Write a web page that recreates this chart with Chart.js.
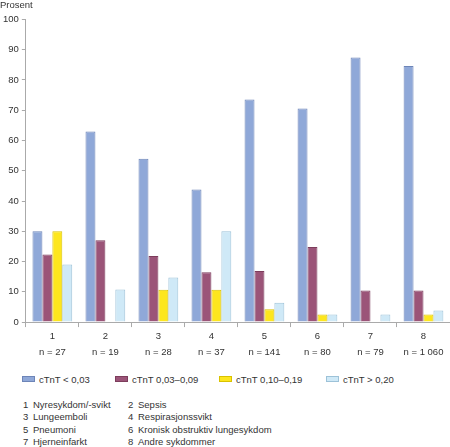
<!DOCTYPE html>
<html>
<head>
<meta charset="utf-8">
<script src="https://cdn.jsdelivr.net/npm/chart.js@4.4.1/dist/chart.umd.min.js"></script>
<style>
  html, body { margin: 0; padding: 0; background: #fff; }
  body { width: 450px; height: 447px; overflow: hidden; font-family: "Liberation Sans", Arial, sans-serif; color: #333; position: relative; }
  #wrap { position: relative; width: 450px; height: 361px; }
  #legend { position: absolute; top: 374px; left: 0; font-size: 9.5px; white-space: nowrap; }
  #legend span.item { position: absolute; top: 0; line-height: 12px; }
  #legend i { display: inline-block; width: 13px; height: 6px; margin-right: 4px; vertical-align: 1px; box-sizing: border-box; border: 1px solid; }
  #list { position: absolute; top: 399px; left: 23px; font-size: 9.5px; line-height: 12.3px; }
  #list div { position: relative; height: 12.3px; }
  #list span { position: absolute; white-space: nowrap; }
</style>
</head>
<body>
<div id="wrap"><canvas id="c"></canvas></div>
<div id="legend"></div>
<div id="list"></div>
<script>
  // Kategorijas un vērtības (procenti), nolasīti no attēla
  var categories = ['1', '2', '3', '4', '5', '6', '7', '8'];
  var counts = ['n = 27', 'n = 19', 'n = 28', 'n = 37', 'n = 141', 'n = 80', 'n = 79', 'n = 1 060'];
  var seriesNames = ['cTnT < 0,03', 'cTnT 0,03–0,09', 'cTnT 0,10–0,19', 'cTnT > 0,20'];
  var below003 = [30, 63, 54, 43.8, 73.5, 70.6, 87.4, 84.6];
  var from003 = [22.3, 27, 21.8, 16.5, 16.9, 24.8, 10.4, 10.4];
  var from010 = [30, 0, 10.7, 10.7, 4.2, 2.5, 0, 2.5];
  var above020 = [19, 10.8, 14.7, 30, 6.4, 2.5, 2.5, 3.8];
  var diseaseNums = ['1', '2', '3', '4', '5', '6', '7', '8'];
  var diseaseNames = ['Nyresykdom/-svikt', 'Sepsis', 'Lungeemboli', 'Respirasjonssvikt',
    'Pneumoni', 'Kronisk obstruktiv lungesykdom', 'Hjerneinfarkt', 'Andre sykdommer'];
  var yTicks = [0, 10, 20, 30, 40, 50, 60, 70, 80, 90, 100];

  var fills = ['#8fa8d8', '#9b5478', '#fde61e', '#cfe9f7'];
  var borders = ['#6d85b8', '#7d3d5c', '#d9c200', '#9dc2d8'];
  var series = [below003, from003, from010, above020];
  var font = '"Liberation Sans", Arial, sans-serif';

  var labels = categories.map(function (c, i) { return [c, counts[i]]; });

  var chart = new Chart(document.getElementById('c'), {
    type: 'bar',
    data: {
      labels: labels,
      datasets: series.map(function (s, i) {
        return {
          label: seriesNames[i],
          data: s,
          backgroundColor: fills[i],
          borderColor: borders[i],
          borderWidth: 1,
          categoryPercentage: 0.75,
          barPercentage: 1
        };
      })
    },
    options: {
      responsive: true,
      maintainAspectRatio: false,
      animation: false,
      layout: { padding: 0 },
      plugins: {
        legend: { display: false },
        tooltip: { enabled: false },
        title: {
          display: true,
          text: 'Prosent',
          align: 'start',
          color: '#333',
          font: { family: font, size: 9.5, weight: 'normal' },
          padding: { top: 0, bottom: 8 }
        }
      },
      scales: {
        x: {
          border: { color: '#aaa' },
          grid: { drawOnChartArea: false, drawTicks: true, tickLength: 5, color: '#aaa', offset: true },
          ticks: {
            color: '#333',
            padding: 1,
            font: { family: font, size: 9.5, lineHeight: 1.68 }
          }
        },
        y: {
          min: 0,
          max: 100,
          afterBuildTicks: function (axis) { axis.ticks = yTicks.map(function (v) { return { value: v }; }); },
          border: { color: '#aaa' },
          grid: { drawOnChartArea: false, drawTicks: true, tickLength: 4, color: '#aaa' },
          ticks: {
            color: '#333',
            padding: 3,
            font: { family: font, size: 9.5 }
          }
        }
      }
    }
  });

  // Leģenda
  var legend = document.getElementById('legend');
  var legendX = [22, 115, 219, 326];
  seriesNames.forEach(function (n, i) {
    var s = document.createElement('span');
    s.className = 'item';
    s.style.left = legendX[i] + 'px';
    s.innerHTML = '<i style="background:' + fills[i] + ';border-color:' + borders[i] + '"></i>';
    s.appendChild(document.createTextNode(n));
    legend.appendChild(s);
  });

  // Slimību saraksts divās kolonnās
  var list = document.getElementById('list');
  for (var r = 0; r < diseaseNames.length; r += 2) {
    var row = document.createElement('div');
    [0, 1].forEach(function (k) {
      var base = k === 0 ? 0 : 105;
      var num = document.createElement('span');
      num.style.left = base + 'px';
      num.textContent = diseaseNums[r + k];
      var txt = document.createElement('span');
      txt.style.left = (base + 10) + 'px';
      txt.textContent = diseaseNames[r + k];
      row.appendChild(num);
      row.appendChild(txt);
    });
    list.appendChild(row);
  }
</script>
</body>
</html>
